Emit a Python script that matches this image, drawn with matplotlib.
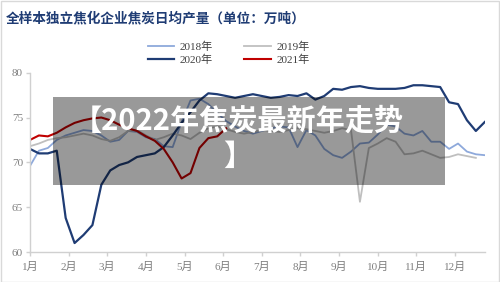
import matplotlib
matplotlib.use("Agg")
import matplotlib.pyplot as plt
import numpy as np
from matplotlib.patches import Rectangle

plt.rcParams['font.family'] = ['Liberation Serif', 'Noto Sans CJK SC', 'DejaVu Sans']

title = "全样本独立焦化企业焦炭日均产量（单位：万吨）"
overlay_line1 = "【2022年焦炭最新年走势"
overlay_line2 = "】"
month_labels = ["1月", "2月", "3月", "4月", "5月", "6月", "7月", "8月", "9月", "10月", "11月", "12月"]
y_ticks = [60, 65, 70, 75, 80]

v2018 = [69.6, 71.3, 71.6, 72.5, 73.0, 73.3, 73.6, 73.5, 73.0, 72.3, 72.5, 73.5, 73.4,
         72.8, 72.6, 71.8, 71.7, 74.5, 76.9, 77.1, 76.5, 75.5, 74.6, 74.0, 73.5, 73.2,
         73.5, 73.8, 74.0, 73.9, 71.7, 73.6, 73.0, 71.5, 70.8, 70.5, 71.2, 72.1, 72.2,
         73.1, 74.2, 74.0, 73.2, 73.0, 73.5, 72.3, 72.3, 71.5, 72.1, 71.2, 70.9, 70.8]
v2019 = [71.8, 72.1, 72.5, 72.7, 72.8, 73.0, 73.2, 73.0, 72.6, 72.4, 72.8, 73.5, 73.6,
         73.0, 72.5, 72.8, 73.2, 73.0, 72.6, 73.3, 73.8, 74.0, 73.7, 73.4, 73.2, 73.4,
         73.6, 73.5, 73.4, 73.6, 73.8, 73.7, 73.5, 73.3, 73.5, 73.8, 73.6, 65.6, 71.6,
         72.1, 72.7, 72.3, 70.9, 71.0, 71.3, 70.9, 70.5, 70.6, 70.9, 70.7, 70.5]
v2020 = [71.5, 71.0, 71.0, 71.3, 63.8, 61.0, 61.9, 63.0, 67.5, 69.1, 69.7, 70.0, 70.6,
         70.8, 71.0, 71.7, 73.0, 74.4, 75.6, 76.9, 77.7, 77.6, 77.4, 77.2, 77.4, 77.6,
         77.4, 77.2, 77.3, 77.5, 77.4, 77.7, 77.0, 77.4, 78.2, 78.1, 78.4, 78.5, 78.3,
         78.2, 78.2, 78.2, 78.3, 78.6, 78.6, 78.5, 78.4, 76.7, 76.5, 74.7, 73.5, 74.5]
v2021 = [72.5, 73.0, 72.9, 73.3, 73.9, 74.4, 74.7, 74.9, 75.0, 74.7, 74.2, 73.8, 73.5,
         72.9, 72.4, 71.5, 70.0, 68.2, 68.8, 71.6, 72.7, 72.9, 73.8]

def wk(vals):
    return 1 + np.arange(len(vals)) * 12 / 52

W, H = 500, 282
fig = plt.figure(figsize=(W / 100, H / 100), dpi=100)
ax = fig.add_axes([30 / W, 1 - 252 / H, 455 / W, (252 - 72.7) / H])

c18, c19, c20, c21 = "#8EA9DB", "#BFBFBF", "#1F3C74", "#C00000"
l18, = ax.plot(wk(v2018), v2018, color=c18, lw=1.3, label="2018年")
l19, = ax.plot(wk(v2019), v2019, color=c19, lw=1.3, label="2019年")
l20, = ax.plot(wk(v2020), v2020, color=c20, lw=1.6, label="2020年")
l21, = ax.plot(wk(v2021), v2021, color=c21, lw=1.5, label="2021年")

ax.set_xlim(1, 1 + 455 / 38.64)
ax.set_ylim(60, 80)
ax.set_xticks(np.arange(1, 13))
ax.set_xticklabels(month_labels)
ax.set_yticks(y_ticks)
for s in ["top", "right"]:
    ax.spines[s].set_visible(False)
for s in ["left", "bottom"]:
    ax.spines[s].set_color("#D0D0D0")
    ax.spines[s].set_linewidth(1.0)
ax.tick_params(axis="both", colors="#D0D0D0", labelcolor="#7F7F7F", labelsize=8, length=3, width=1)
ax.tick_params(axis="x", pad=4)
ax.tick_params(axis="y", pad=2)

leg = fig.legend([l18, l20, l19, l21], ["2018年", "2020年", "2019年", "2021年"], ncol=2,
                 loc="upper left", bbox_to_anchor=(140 / W, 1 - 34 / H), frameon=False,
                 fontsize=8, handlelength=2.4, columnspacing=2.8, labelspacing=0.25,
                 handletextpad=0.5, borderpad=0.2)
for t in leg.get_texts():
    t.set_color("#404040")

fig.text(6 / W, 1 - 18 / H, title, fontsize=9.8, fontweight="bold", color="#1F3C74",
         family=["Noto Sans CJK SC", "DejaVu Sans"], va="center", ha="left")

fig.patches.append(Rectangle((53 / W, 1 - 185 / H), 392 / W, 88 / H, transform=fig.transFigure,
                             facecolor="black", alpha=0.4, edgecolor="none", zorder=5))
fig.text(238 / W, 1 - 121 / H, overlay_line1, fontsize=21, fontweight="bold", color="white",
         family=["Noto Sans CJK SC", "DejaVu Sans"], ha="center", va="center", zorder=6)
fig.text(238 / W, 1 - 156 / H, overlay_line2, fontsize=21, fontweight="bold", color="white",
         family=["Noto Sans CJK SC", "DejaVu Sans"], ha="center", va="center", zorder=6)

fig.patches.append(Rectangle((0.5 / W, 0.5 / H), (W - 1.5) / W, (H - 1.5) / H, transform=fig.transFigure,
                             facecolor="none", edgecolor="#D9D9D9", lw=1.0, zorder=0))

fig.savefig("out.png", dpi=100)
